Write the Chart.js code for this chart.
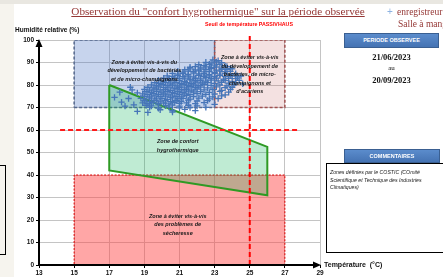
<!DOCTYPE html>
<html>
<head>
<meta charset="utf-8">
<script src="https://cdn.jsdelivr.net/npm/chart.js@4.4.0/dist/chart.umd.min.js"></script>
<style>
  html, body { margin: 0; padding: 0; }
  body { width: 443px; height: 277px; overflow: hidden; position: relative; background: #fff; font-family: 'Liberation Sans', sans-serif; }
  #leftStrip { position: absolute; left: 0; top: 0; width: 14px; height: 277px; background: #f6f4ee; }
  #topStrip { position: absolute; left: 0; top: 0; width: 443px; height: 4px; background: #e9e7e1; }
  #chartBox { position: absolute; left: 0; top: 0; width: 443px; height: 277px; }
  .txt { position: absolute; white-space: nowrap; }
  #title { left: 40px; width: 356px; top: 5px; text-align: center; font-family: 'Liberation Serif', serif; font-size: 11.2px; color: #953735; text-decoration: underline; }
  .legend { font-family: 'Liberation Serif', serif; font-size: 9.5px; color: #953735; }
  .btn { position: absolute; background: linear-gradient(#5b8ccc, #4573b3); border: 1px solid #3a5f91; color: #fff; font-size: 5.5px; font-weight: bold; text-align: center; box-sizing: border-box; }
  .date { font-family: 'Liberation Serif', serif; font-weight: bold; font-size: 8.5px; color: #111; left: 344px; width: 95px; text-align: center; }
  #comment { position: absolute; left: 326px; top: 163px; width: 130px; height: 90px; border: 1.5px solid #000; box-sizing: border-box; padding: 5px 3px; }
  #comment div { width: 108px; font-size: 5.2px; font-style: italic; line-height: 7.6px; color: #222; }
  #leftBox { position: absolute; left: -2px; top: 165px; width: 8px; height: 90px; border: 1px solid #000; box-sizing: border-box; }
</style>
</head>
<body>
<div id="leftStrip"></div>
<div id="topStrip"></div>
<div id="leftBox"></div>
<div id="chartBox"><canvas id="chart" width="443" height="277"></canvas></div>

<div class="txt" id="title">Observation du "confort hygrothermique" sur la période observée</div>
<div class="txt" style="left:387px; top:6px; font-size:10px; color:#8db3e2;">+</div>
<div class="txt legend" style="left:397px; top:7px;">enregistreur</div>
<div class="txt legend" style="left:398px; top:19px;">Salle à manger</div>

<div class="txt" style="left:15px; top:26px; font-size:6.5px; font-weight:bold; color:#111;">Humidité relative (%)</div>
<div class="txt" style="left:205px; top:21px; font-size:5.3px; font-weight:bold; color:#ff0000;">Seuil de température PASSIVHAUS</div>
<div class="txt" style="left:324px; top:261px; font-size:7px; font-weight:bold; color:#111;">Température&nbsp; (°C)</div>

<div class="btn" style="left:344px; top:33px; width:95px; height:15px; line-height:13px;">PERIODE OBSERVEE</div>
<div class="txt date" style="top:52px;">21/06/2023</div>
<div class="txt date" style="top:64px; font-weight:normal; font-size:7px;">au</div>
<div class="txt date" style="top:75px;">20/09/2023</div>

<div class="btn" style="left:344px; top:149px; width:96px; height:14px; line-height:12px;">COMMENTAIRES</div>
<div id="comment"><div>Zones définies par le COSTIC (COmité Scientifique et Technique des Industries Climatiques)</div></div>

<script>
// axes
const xTicks = [13, 15, 17, 19, 21, 23, 25, 27, 29];
const yTicks = [0, 10, 20, 30, 40, 50, 60, 70, 80, 90, 100];

// zones (temperature, humidity corners)
const zoneBacteria = [[15, 70], [23, 70], [23, 100], [15, 100], [15, 70]];
const zoneMites = [[23, 70], [27, 70], [27, 100], [23, 100], [23, 70]];
const zoneDry = [[15, 0], [27, 0], [27, 40], [15, 40], [15, 0]];
const zoneComfort = [[17, 80], [26, 52.5], [26, 31], [17, 42], [17, 80]];

// seuils
const passivhausLine = [[25, 0], [25, 103]];
const humLine = [[14.2, 60], [27.8, 60]];

// enregistreur Salle à manger : [température, humidité]
const recPoints = [
  [22.9, 91.2], [23.2, 90.8],
  [22.5, 90.1], [22.8, 89.7], [23.1, 90.3], [23.4, 89.9],
  [22.1, 89.0], [22.4, 88.6], [22.7, 89.2], [23.0, 88.8], [23.3, 89.1], [23.6, 88.5],
  [21.6, 87.9], [21.9, 88.2], [22.2, 87.6], [22.5, 88.1], [22.8, 87.8], [23.1, 88.0], [23.4, 87.5], [23.7, 88.2], [23.9, 87.4],
  [21.3, 86.8], [21.6, 87.2], [21.9, 86.7], [22.2, 87.1], [22.5, 86.9], [22.8, 87.3], [23.1, 86.6], [23.4, 87.0], [23.7, 86.8], [24.0, 87.2],
  [20.9, 86.1], [21.2, 85.7], [21.5, 86.2], [21.8, 85.9], [22.1, 86.3], [22.4, 85.8], [22.7, 86.0], [23.0, 85.6], [23.3, 86.2], [23.6, 85.9], [23.9, 86.1],
  [20.6, 85.2], [20.9, 84.8], [21.2, 85.1], [21.5, 84.7], [21.8, 85.3], [22.1, 84.9], [22.4, 85.0], [22.7, 84.6], [23.0, 85.2], [23.3, 84.8], [23.6, 85.1], [23.9, 84.7], [24.2, 85.0],
  [20.3, 84.1], [20.6, 83.8], [20.9, 84.2], [21.2, 83.7], [21.5, 84.0], [21.8, 83.6], [22.1, 84.3], [22.4, 83.9], [22.7, 84.1], [23.0, 83.7], [23.3, 84.2], [23.6, 83.8], [24.0, 84.0], [24.3, 83.6],
  [20.1, 83.0], [20.4, 82.7], [20.7, 83.2], [21.0, 82.8], [21.3, 83.1], [21.6, 82.6], [21.9, 83.0], [22.2, 82.7], [22.5, 83.3], [22.8, 82.9], [23.1, 83.1], [23.5, 82.6], [23.8, 83.0], [24.2, 82.8],
  [19.8, 82.1], [20.1, 81.7], [20.4, 82.2], [20.7, 81.8], [21.0, 82.0], [21.3, 81.6], [21.6, 82.3], [21.9, 81.9], [22.2, 82.1], [22.5, 81.7], [22.8, 82.2], [23.2, 81.8], [23.6, 82.0], [24.0, 81.6], [24.4, 82.1],
  [19.6, 81.0], [19.9, 80.7], [20.2, 81.2], [20.5, 80.8], [20.8, 81.1], [21.1, 80.6], [21.4, 81.0], [21.7, 80.7], [22.0, 81.3], [22.3, 80.9], [22.6, 81.1], [23.0, 80.7], [23.4, 81.2], [23.8, 80.8], [24.2, 81.0],
  [19.4, 80.1], [19.7, 79.7], [20.0, 80.2], [20.3, 79.8], [20.6, 80.0], [20.9, 79.6], [21.2, 80.3], [21.5, 79.9], [21.8, 80.1], [22.1, 79.7], [22.4, 80.2], [22.8, 79.8], [23.3, 80.0], [23.7, 79.6], [24.1, 80.1],
  [19.2, 79.0], [19.5, 78.7], [19.8, 79.2], [20.1, 78.8], [20.4, 79.1], [20.7, 78.6], [21.0, 79.0], [21.3, 78.7], [21.6, 79.3], [21.9, 78.9], [22.2, 79.1], [22.6, 78.7], [23.1, 79.2], [23.6, 78.8], [24.0, 79.0],
  [19.0, 78.1], [19.3, 77.7], [19.6, 78.2], [19.9, 77.8], [20.2, 78.0], [20.5, 77.6], [20.8, 78.3], [21.1, 77.9], [21.4, 78.1], [21.7, 77.7], [22.0, 78.2], [22.4, 77.8], [22.9, 78.0], [23.4, 77.6], [23.9, 78.1],
  [19.1, 77.0], [19.4, 76.7], [19.7, 77.2], [20.0, 76.8], [20.3, 77.1], [20.6, 76.6], [20.9, 77.0], [21.2, 76.7], [21.5, 77.3], [21.8, 76.9], [22.2, 77.1], [22.7, 76.7], [23.3, 77.2], [23.8, 76.8],
  [18.9, 76.1], [19.2, 75.7], [19.5, 76.2], [19.8, 75.8], [20.1, 76.0], [20.4, 75.6], [20.7, 76.3], [21.0, 75.9], [21.3, 76.1], [21.6, 75.7], [22.0, 76.2], [22.5, 75.8], [23.0, 76.0], [23.6, 75.6],
  [19.0, 75.0], [19.3, 74.7], [19.6, 75.2], [19.9, 74.8], [20.2, 75.1], [20.5, 74.6], [20.8, 75.0], [21.1, 74.7], [21.4, 75.3], [21.8, 74.9], [22.3, 75.1], [22.9, 74.7], [23.4, 75.2],
  [18.8, 74.1], [19.1, 73.7], [19.4, 74.2], [19.7, 73.8], [20.0, 74.0], [20.3, 73.6], [20.6, 74.3], [20.9, 73.9], [21.2, 74.1], [21.6, 73.7], [22.1, 74.2], [22.7, 73.8], [23.2, 74.0],
  [19.0, 73.0], [19.3, 72.7], [19.6, 73.2], [19.9, 72.8], [20.2, 73.1], [20.5, 72.6], [20.8, 73.0], [21.1, 72.7], [21.5, 73.3], [22.0, 72.9], [22.6, 73.1],
  [18.9, 72.1], [19.2, 71.7], [19.5, 72.2], [19.8, 71.8], [20.1, 72.0], [20.4, 71.6], [20.7, 72.3], [21.0, 71.9], [21.4, 72.1], [21.9, 71.7], [22.4, 72.2],
  [19.1, 71.0], [19.4, 70.7], [19.8, 71.2], [20.2, 70.8], [20.6, 71.1], [21.0, 70.6], [21.5, 71.0], [22.0, 70.7],
  [19.3, 70.1], [19.8, 69.7], [20.4, 70.2], [21.0, 69.8], [21.6, 70.0],
  [19.9, 69.0], [20.6, 68.7], [21.3, 69.2],
  [17.3, 74.5], [17.6, 76.8], [17.7, 72.4], [18.1, 74.0], [18.3, 77.8], [18.6, 76.5], [18.4, 71.2], [18.6, 68.3],
  [19.2, 67.8], [20.6, 68.0], [21.9, 68.6], [22.5, 70.1], [23.0, 71.4], [17.9, 70.6], [18.2, 79.0], [24.6, 80.5], [24.5, 84.0]
];

// textes des zones : [température, humidité, texte]
const zoneLabels = [
  [19, 89.8, 'Zone à éviter vis-à-vis du'], [19, 86.3, 'développement de bactéries'], [19, 82.6, 'et de micro-champignons'],
  [25, 92.3, 'Zone à éviter vis-à-vis'], [25, 88.3, 'du développement de'], [25, 84.5, 'bactéries, de micro-'], [25, 80.8, 'champignons et'], [25, 77.1, "d'acariens"],
  [20.9, 54.8, 'Zone de confort'], [20.9, 51.1, 'hygrothermique'],
  [20.9, 21.5, 'Zone à éviter vis-à-vis'], [20.9, 17.8, 'des problèmes de'], [20.9, 14.1, 'sécheresse']
];

function toXY(list) {
  return list.map(p => ({ x: p[0], y: p[1] }));
}

function zoneDataset(points, fill, border, dash, width) {
  return {
    type: 'line',
    data: toXY(points),
    fill: 'shape',
    backgroundColor: fill,
    borderColor: border,
    borderWidth: width,
    borderDash: dash,
    pointRadius: 0,
    tension: 0
  };
}

const decorPlugin = {
  id: 'decor',
  afterDatasetsDraw(chart) {
    const ctx = chart.ctx;
    const xs = chart.scales.x;
    const ys = chart.scales.y;
    ctx.save();
    ctx.fillStyle = '#1a1a1a';
    ctx.font = 'italic bold 5.5px "Liberation Sans"';
    ctx.textAlign = 'center';
    ctx.textBaseline = 'middle';
    zoneLabels.forEach(l => {
      ctx.fillText(l[2], xs.getPixelForValue(l[0]), ys.getPixelForValue(l[1]));
    });

    // axes avec flèches
    const x0 = xs.getPixelForValue(13);
    const x1 = xs.getPixelForValue(29);
    const y0 = ys.getPixelForValue(0);
    const y1 = ys.getPixelForValue(100);
    ctx.strokeStyle = '#000';
    ctx.fillStyle = '#000';
    ctx.lineWidth = 2;
    ctx.beginPath();
    ctx.moveTo(x0, y0);
    ctx.lineTo(x0, y1 + 3);
    ctx.moveTo(x0, y0);
    ctx.lineTo(x1 - 3, y0);
    ctx.stroke();
    ctx.beginPath();
    ctx.moveTo(x0, y1 - 1);
    ctx.lineTo(x0 - 3.5, y1 + 7);
    ctx.lineTo(x0 + 3.5, y1 + 7);
    ctx.closePath();
    ctx.fill();
    ctx.beginPath();
    ctx.moveTo(x1 + 1, y0);
    ctx.lineTo(x1 - 7, y0 - 3.5);
    ctx.lineTo(x1 - 7, y0 + 3.5);
    ctx.closePath();
    ctx.fill();
    ctx.restore();
  }
};

const ctx = document.getElementById('chart').getContext('2d');
new Chart(ctx, {
  type: 'scatter',
  data: {
    datasets: [
      {
        label: 'enregistreur Salle à manger',
        data: toXY(recPoints),
        pointStyle: 'cross',
        pointRadius: 3.2,
        borderColor: '#4675b8',
        borderWidth: 1.3
      },
      {
        type: 'line',
        data: toXY(passivhausLine),
        borderColor: '#ff0000',
        borderWidth: 2,
        borderDash: [5, 3],
        pointRadius: 0,
        clip: false
      },
      {
        type: 'line',
        data: toXY(humLine),
        borderColor: '#ff1a1a',
        borderWidth: 2,
        borderDash: [5, 3],
        pointRadius: 0
      },
      zoneDataset(zoneComfort, 'rgba(0,176,80,0.25)', '#2f9a24', [], 2),
      zoneDataset(zoneDry, 'rgba(255,70,70,0.48)', '#e00000', [2, 1.5], 1),
      zoneDataset(zoneMites, 'rgba(192,80,77,0.17)', '#a05050', [3, 2], 1.5),
      zoneDataset(zoneBacteria, 'rgba(68,114,196,0.3)', '#56698f', [3, 2], 1.5)
    ]
  },
  options: {
    responsive: false,
    animation: false,
    layout: { padding: { left: 0, top: 40, right: 123, bottom: 0 } },
    plugins: {
      legend: { display: false },
      tooltip: { enabled: false }
    },
    scales: {
      x: {
        type: 'linear',
        min: 13,
        max: 29,
        afterBuildTicks: s => { s.ticks = xTicks.map(v => ({ value: v })); },
        afterFit: s => { s.height = 12; },
        grid: { color: '#c4c4c4', lineWidth: 1, tickLength: 3, tickColor: '#000' },
        border: { display: false },
        ticks: { color: '#111', font: { size: 6.5, weight: 'bold', family: 'Liberation Sans' }, padding: 1 }
      },
      y: {
        type: 'linear',
        min: 0,
        max: 100,
        afterBuildTicks: s => { s.ticks = yTicks.map(v => ({ value: v })); },
        afterFit: s => { s.width = 39; },
        grid: { color: '#c4c4c4', lineWidth: 1, tickLength: 3, tickColor: '#000' },
        border: { display: false },
        ticks: { color: '#111', font: { size: 6.5, weight: 'bold', family: 'Liberation Sans' }, padding: 2 }
      }
    }
  },
  plugins: [decorPlugin]
});
</script>
</body>
</html>
